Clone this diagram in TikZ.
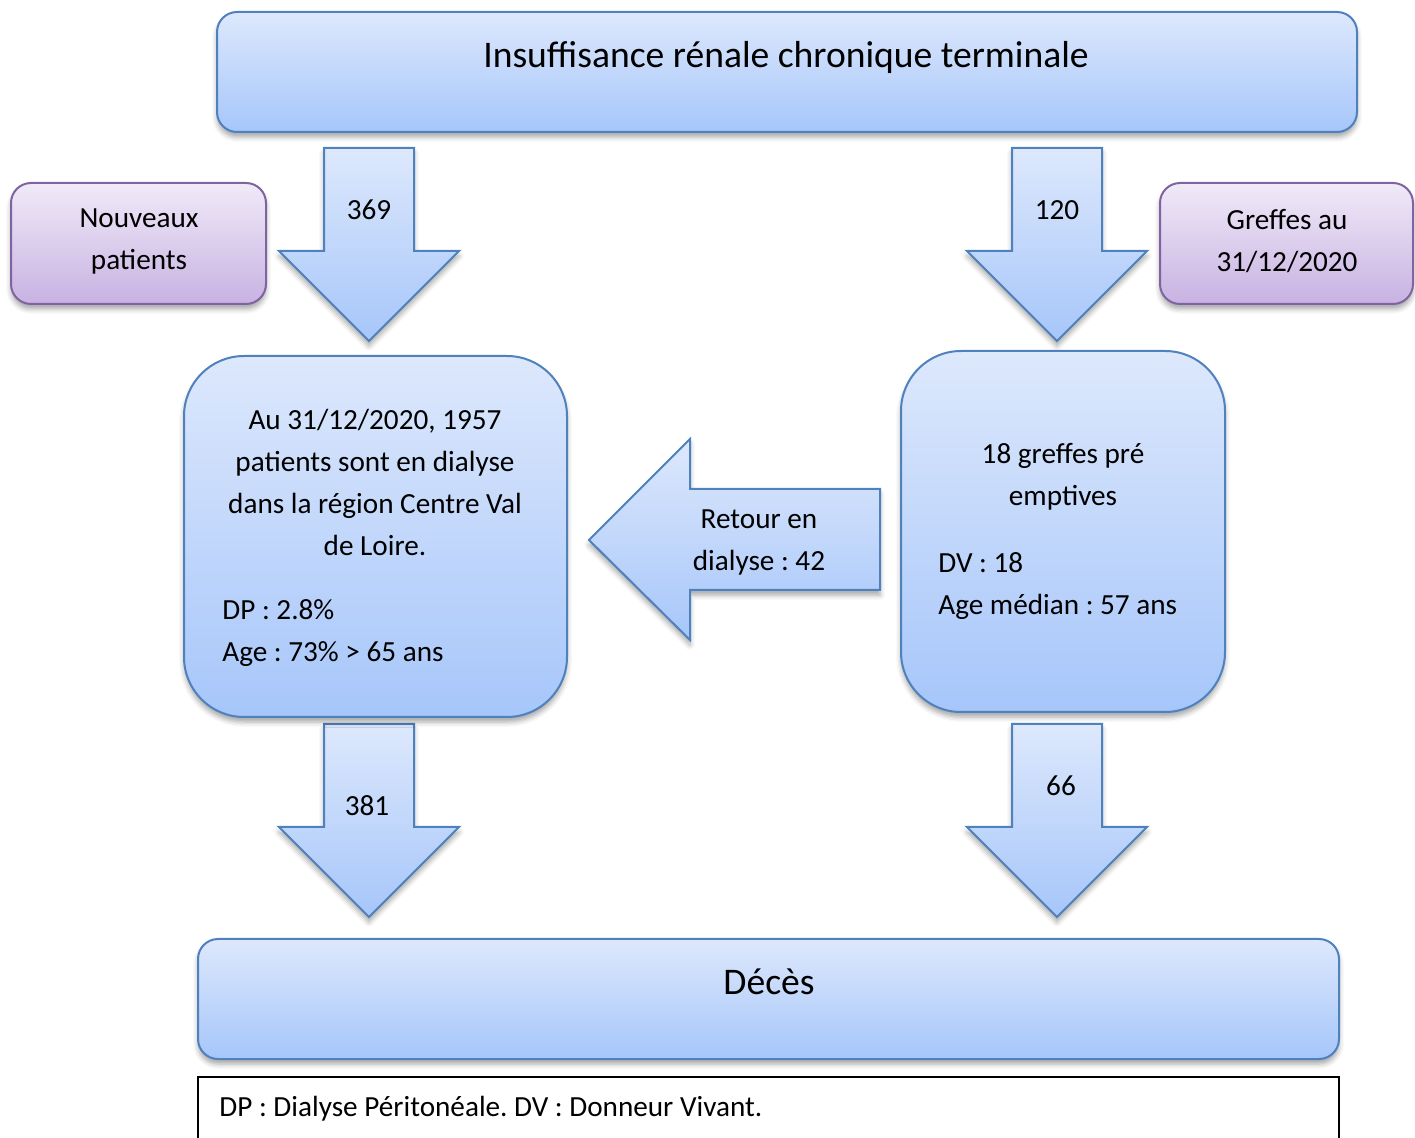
\documentclass[tikz,border=0pt]{standalone}
\usepackage{fontspec}
\setmainfont{Carlito}
\usetikzlibrary{shadows.blur}

\definecolor{boxtop}{RGB}{221,232,252}
\definecolor{boxbot}{RGB}{166,198,250}
\definecolor{boxline}{RGB}{79,129,189}
\definecolor{violtop}{RGB}{240,234,248}
\definecolor{violbot}{RGB}{200,178,226}
\definecolor{violline}{RGB}{128,100,162}

\tikzset{
  ombre/.style={blur shadow={shadow xshift=0pt,shadow yshift=-2.5pt,shadow blur radius=2.5pt,shadow opacity=35}},
  bleu/.style={top color=boxtop,bottom color=boxbot,draw=boxline,line width=1pt,ombre},
  violet/.style={top color=violtop,bottom color=violbot,draw=violline,line width=1pt,ombre},
  texte/.style={font=\fontsize{14.6}{21}\selectfont,inner sep=0pt,align=center},
}

\begin{document}
\frenchspacing
\begin{tikzpicture}[x=0.5pt,y=-0.5pt]
    \useasboundingbox (0,0) rectangle (1415,1138);

    %%%%%%%%%%%%%%%%%%% Haut %%%%%%%%%%%%%%%%%%%%%%%%%%%%%%%
    \path [bleu,rounded corners=10pt] (217,12) rectangle (1357,132);
    \node [texte,font=\fontsize{18.8}{22}\selectfont] (irct) at (786,57) {Insuffisance rénale chronique terminale};

    \path [violet,rounded corners=10pt] (11,183) rectangle (266,304);
    \node [texte] (nouveaux) at (139,241) {Nouveaux\\patients};

    \path [violet,rounded corners=10pt] (1160,183) rectangle (1413,304);
    \node [texte] (greffes) at (1287,241) {Greffes au\\31/12/2020};

    %%%%%%%%%%%%%%%%%%% Fleches verticales %%%%%%%%%%%%%%%%%%%%%%%%%
    \foreach \x/\y in {369/148,1057/148,369/724,1057/724} {
        \path [bleu] (\x-45,\y) -- ++(90,0) -- ++(0,103) -- ++(45,0) -- ++(-90,90)
            -- ++(-90,-90) -- ++(45,0) -- cycle;
    }
    \node [texte] (n369) at (369,210) {369};
    \node [texte] (n120) at (1057,210) {120};
    \node [texte] (n381) at (367,806) {381};
    \node [texte] (n66) at (1061,786) {66};

    %%%%%%%%%%%%%%%%%%% Dialyse %%%%%%%%%%%%%%%%%%%%%%%%%%%%%%%
    \path [bleu,rounded corners=30pt] (184,356) rectangle (567,717);
    \node [texte] (dialyse) at (375,482) {Au 31/12/2020, 1957\\patients sont en dialyse\\dans la région Centre Val\\de Loire.};
    \node [texte,anchor=west,align=left] (dp) at (222,633) {DP : 2.8\%\\Age : 73\% > 65 ans};

    %%%%%%%%%%%%%%%%%%% Greffe %%%%%%%%%%%%%%%%%%%%%%%%%%%%%%%%
    \path [bleu,rounded corners=30pt] (901,351) rectangle (1225,712);
    \node [texte] (preempt) at (1063,477) {18 greffes pré\\emptives};
    \node [texte,anchor=west,align=left] (dv) at (938,586) {DV : 18\\Age médian : 57 ans};

    % Retour en dialyse
    \path [bleu] (880,489) -- (880,590) -- (690,590) -- (690,640) -- (589,540) -- (690,439) -- (690,489) -- cycle;
    \node [texte] (retour) at (759,542) {Retour en\\dialyse : 42};

    %%%%%%%%%%%%%%%%%%% Bas %%%%%%%%%%%%%%%%%%%%%%%%%%%%%%%%%%
    \path [bleu,rounded corners=10pt] (198,939) rectangle (1339,1059);
    \node [texte,font=\fontsize{18.8}{22}\selectfont] (deces) at (769,982) {Décès};

    % Legende
    \draw [line width=0.6pt] (198,1140) -- (198,1077) -- (1339,1077) -- (1339,1140);
    \node [texte,anchor=west] (legende) at (219,1109) {DP : Dialyse Péritonéale. DV : Donneur Vivant.};

\end{tikzpicture}
\end{document}
